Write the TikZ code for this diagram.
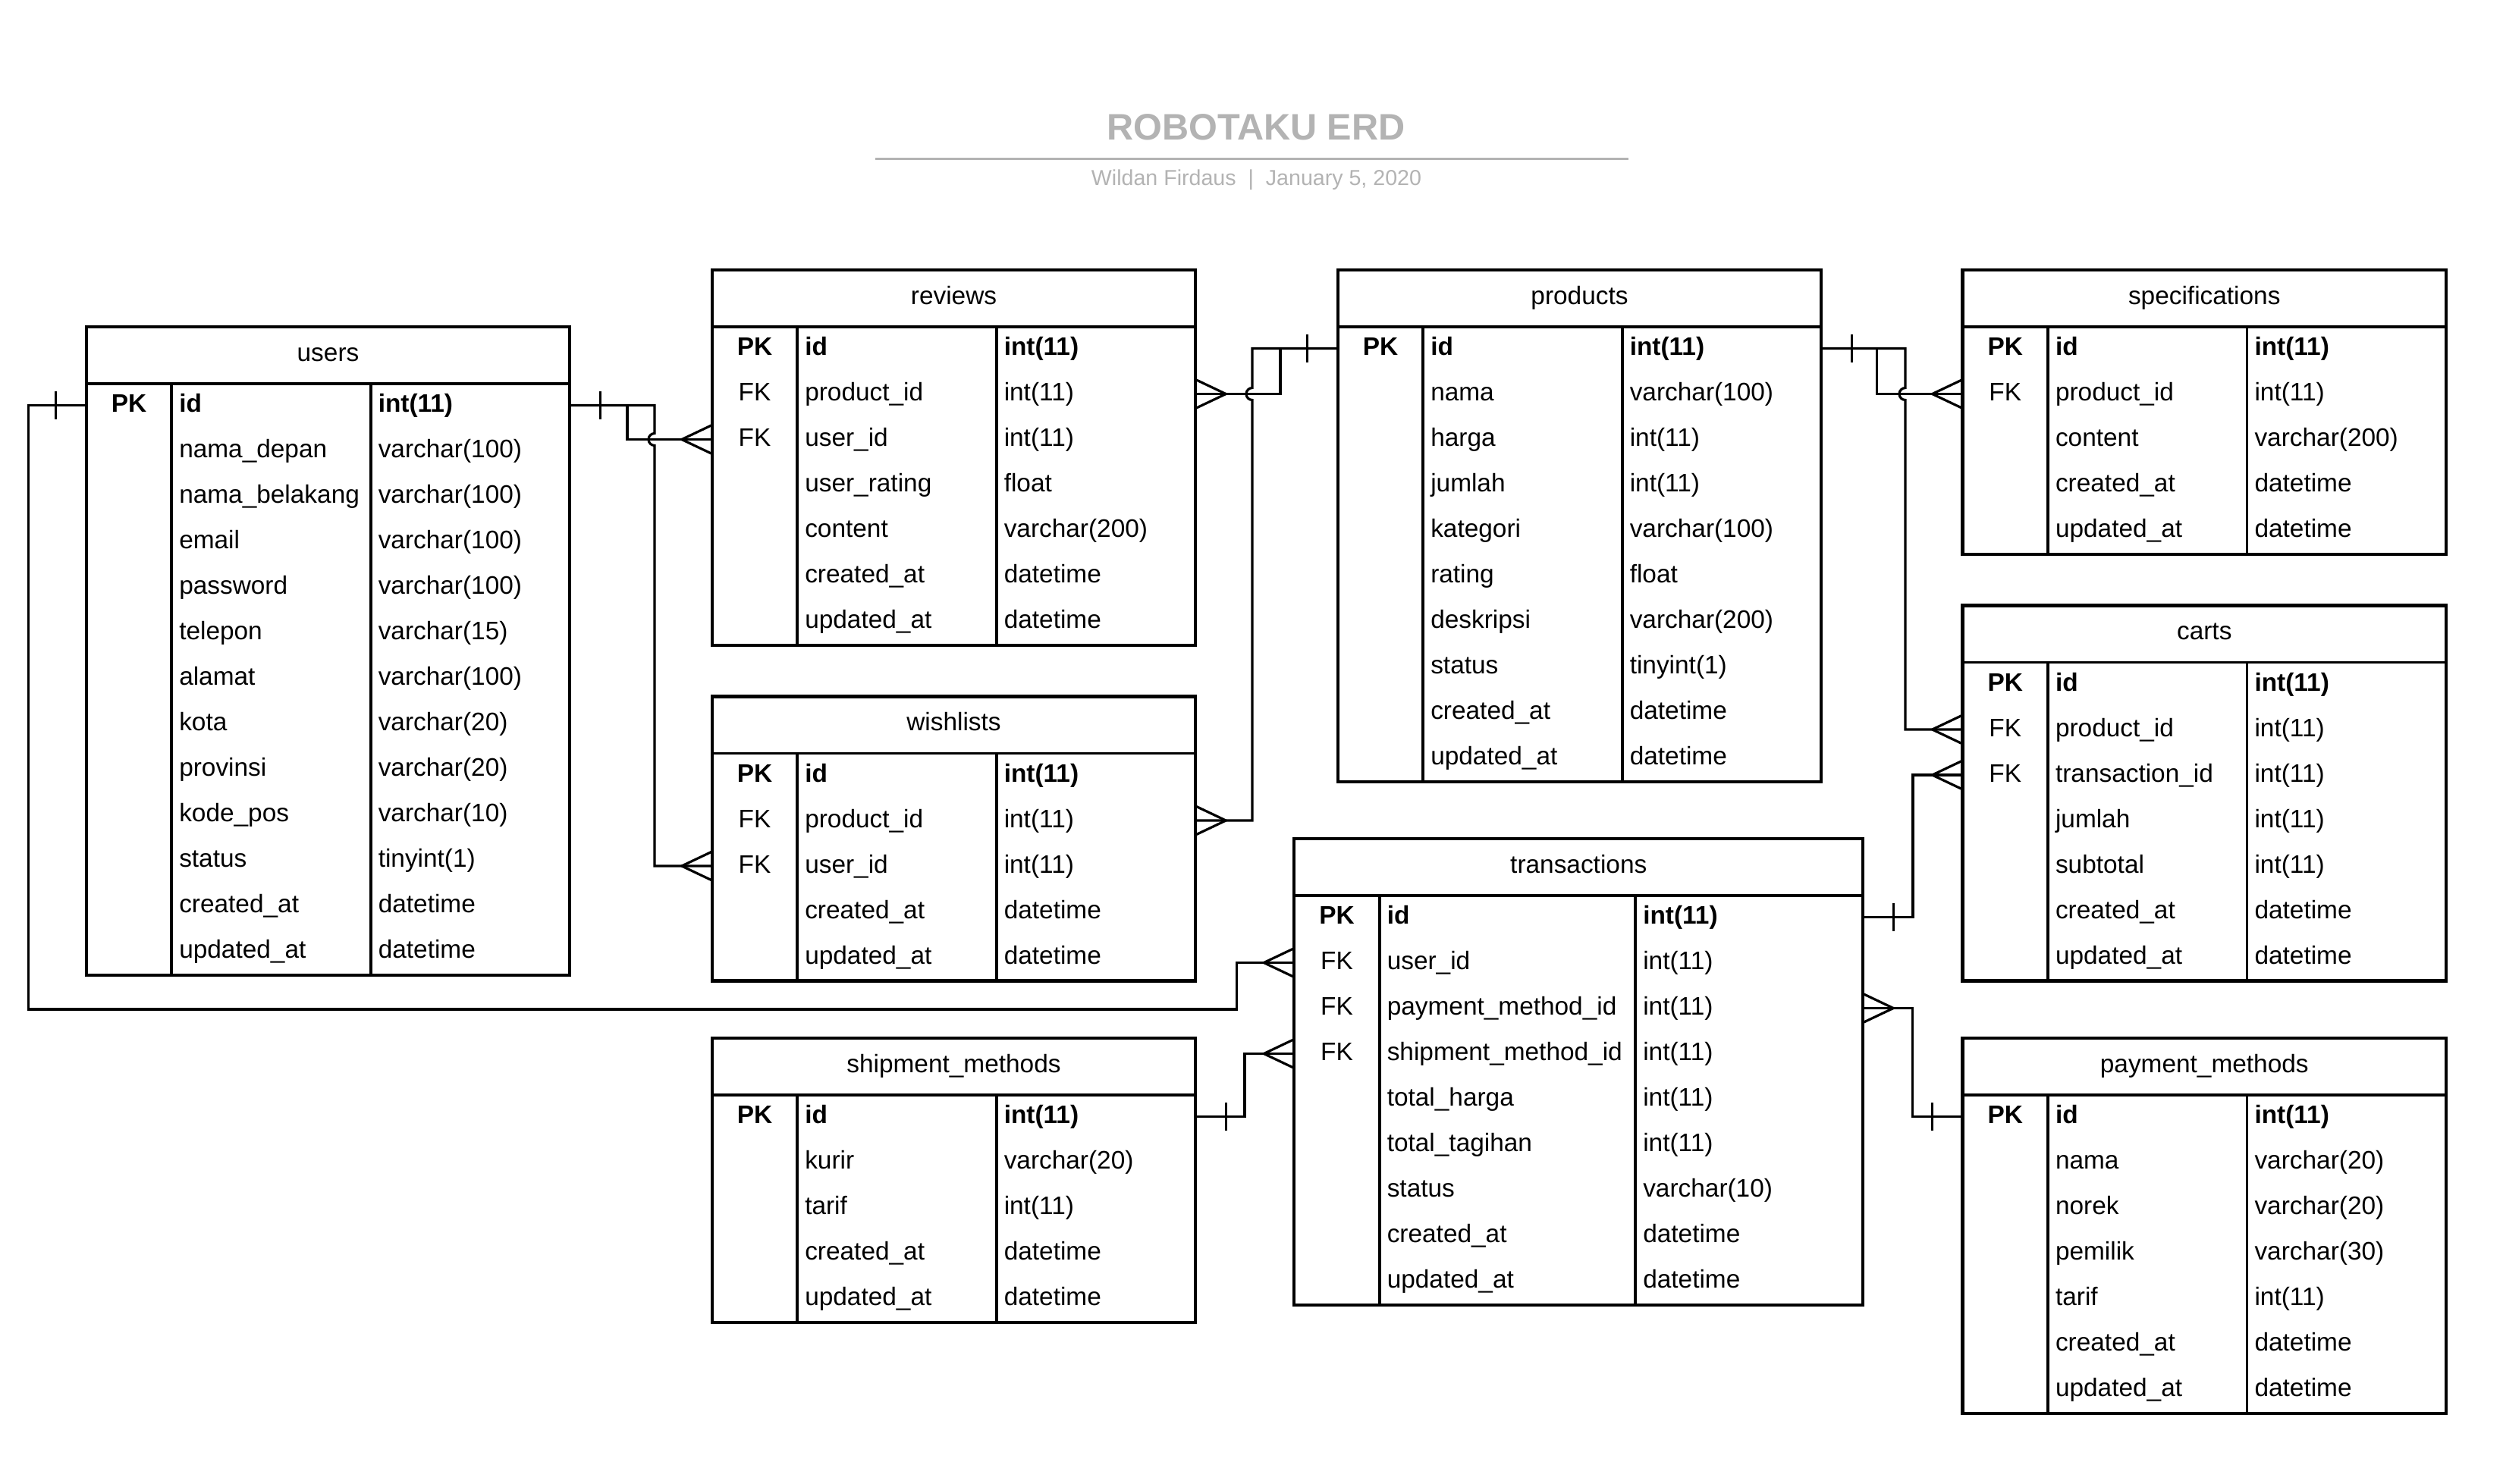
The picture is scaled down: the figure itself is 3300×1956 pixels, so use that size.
\documentclass[tikz,border=0pt]{standalone}
\usepackage{fontspec}
\setmainfont{Liberation Sans}
\usetikzlibrary{calc}
\definecolor{titlegray}{HTML}{B3B3B3}
\tikzset{
  tbl/.style={draw=black, line width=2.1pt, fill=white, rectangle, inner sep=0pt, outer sep=0pt},
  divider/.style={draw=black, line width=1.85pt},
  rowbox/.style={rectangle, inner sep=0pt, outer sep=0pt, minimum height=30pt},
  cell/.style={inner sep=0pt, outer sep=0pt, font=\fontsize{16.7}{20}\selectfont},
  hdr/.style={cell},
  conn/.style={draw=black, line width=1.6pt},
  titletext/.style={inner sep=0pt, text=titlegray, font=\fontsize{24.3}{29}\selectfont\bfseries},
  subtext/.style={inner sep=0pt, text=titlegray, font=\fontsize{14.3}{17}\selectfont},
}
% #1 name, #2 x, #3 y, #4 name col width, #5 type col width, #6 rows, #7 title, #8 rows after PK
\newcommand\erdtable[8]{%
  \pgfmathsetmacro\tbw{112.5+#4+#5}%
  \pgfmathsetmacro\tbh{75+60*#6}%
  \node[tbl, anchor=north west, minimum width=\tbw*0.5pt, minimum height=\tbh*0.5pt] (#1) at (#2,#3) {};
  \draw[divider] ($(#1.north west)+(0,75)$) -- ($(#1.north east)+(0,75)$);
  \draw[divider] ($(#1.north west)+(112.5,75)$) -- ($(#1.south west)+(112.5,0)$);
  \draw[divider] ($(#1.north west)+(112.5+#4,75)$) -- ($(#1.south west)+(112.5+#4,0)$);
  \node[hdr, anchor=base] (#1-title) at ($(#1.north)+(0,45)$) {#7};
  \node[rowbox, anchor=north west, minimum width=\tbw*0.5pt] (#1-0) at ($(#1.north west)+(0,73.5)$) {};
  \node[cell, anchor=base] (#1-0-k) at ($(#1.north west)+(56.25,112.5)$) {\bfseries PK};
  \node[cell, anchor=base west] (#1-0-n) at ($(#1.north west)+(122.5,112.5)$) {\bfseries id};
  \node[cell, anchor=base west] (#1-0-t) at ($(#1.north west)+(122.5+#4,112.5)$) {\bfseries int(11)};
  \foreach \rk/\rn/\rt [count=\ri from 1] in {#8} {
    \node[rowbox, anchor=north west, minimum width=\tbw*0.5pt] (#1-\ri) at ($(#1.north west)+(0,73.5+60*\ri)$) {};
    \node[cell, anchor=base] (#1-\ri-k) at ($(#1.north west)+(56.25,112.5+60*\ri)$) {\rk};
    \node[cell, anchor=base west] (#1-\ri-n) at ($(#1.north west)+(122.5,112.5+60*\ri)$) {\rn};
    \node[cell, anchor=base west] (#1-\ri-t) at ($(#1.north west)+(122.5+#4,112.5+60*\ri)$) {\rt};
  }
}
\newcommand\ertick[2]{\draw[conn] ($(#1)+({(#2)*40},-18.5)$) -- ++(0,37);}
\newcommand\ercrow[2]{%
  \draw[conn] ($(#1)+({(#2)*40},0)$) -- ($(#1)+(0,-19)$);
  \draw[conn] ($(#1)+({(#2)*40},0)$) -- ($(#1)+(0,19)$);}
\begin{document}
\begin{tikzpicture}[x=0.5pt,y=-0.5pt]
\fill[white] (0,0) rectangle (3300,1956);
\useasboundingbox (0,0) rectangle (3300,1956);

% title block
\node[titletext, anchor=base] (title) at (1656,184.5) {ROBOTAKU ERD};
\draw[titlegray, line width=1.35pt] (1154,209.3) -- (2147,209.3);
\node[subtext, anchor=base] (subtitle) at (1656.5,244) {Wildan Firdaus\ \ |\ \ January 5, 2020};

% tables
\erdtable{users}{113.75}{431}{262.5}{262.5}{13}{users}{
  {}/nama\_depan/varchar(100),
  {}/nama\_belakang/varchar(100),
  {}/email/varchar(100),
  {}/password/varchar(100),
  {}/telepon/varchar(15),
  {}/alamat/varchar(100),
  {}/kota/varchar(20),
  {}/provinsi/varchar(20),
  {}/kode\_pos/varchar(10),
  {}/status/tinyint(1),
  {}/created\_at/datetime,
  {}/updated\_at/datetime}

\erdtable{reviews}{938.75}{356}{262.5}{262.5}{7}{reviews}{
  FK/product\_id/int(11),
  FK/user\_id/int(11),
  {}/user\_rating/float,
  {}/content/varchar(200),
  {}/created\_at/datetime,
  {}/updated\_at/datetime}

\erdtable{wishlists}{938.75}{918.5}{262.5}{262.5}{5}{wishlists}{
  FK/product\_id/int(11),
  FK/user\_id/int(11),
  {}/created\_at/datetime,
  {}/updated\_at/datetime}

\erdtable{products}{1763.75}{356}{262.5}{262.5}{10}{products}{
  {}/nama/varchar(100),
  {}/harga/int(11),
  {}/jumlah/int(11),
  {}/kategori/varchar(100),
  {}/rating/float,
  {}/deskripsi/varchar(200),
  {}/status/tinyint(1),
  {}/created\_at/datetime,
  {}/updated\_at/datetime}

\erdtable{specifications}{2587.5}{356}{262.5}{262.5}{5}{specifications}{
  FK/product\_id/int(11),
  {}/content/varchar(200),
  {}/created\_at/datetime,
  {}/updated\_at/datetime}

\erdtable{carts}{2587.5}{798.5}{262.5}{262.5}{7}{carts}{
  FK/product\_id/int(11),
  FK/transaction\_id/int(11),
  {}/jumlah/int(11),
  {}/subtotal/int(11),
  {}/created\_at/datetime,
  {}/updated\_at/datetime}

\erdtable{transactions}{1706.25}{1106}{337.5}{300}{9}{transactions}{
  FK/user\_id/int(11),
  FK/payment\_method\_id/int(11),
  FK/shipment\_method\_id/int(11),
  {}/total\_harga/int(11),
  {}/total\_tagihan/int(11),
  {}/status/varchar(10),
  {}/created\_at/datetime,
  {}/updated\_at/datetime}

\erdtable{shipment}{938.75}{1369}{262.5}{262.5}{5}{shipment\_methods}{
  {}/kurir/varchar(20),
  {}/tarif/int(11),
  {}/created\_at/datetime,
  {}/updated\_at/datetime}

\erdtable{payment}{2587.5}{1369}{262.5}{262.5}{7}{payment\_methods}{
  {}/nama/varchar(20),
  {}/norek/varchar(20),
  {}/pemilik/varchar(30),
  {}/tarif/int(11),
  {}/created\_at/datetime,
  {}/updated\_at/datetime}

% connectors
% users.id -> reviews.user_id
\draw[conn] (users-0.east) -- ++(75.75,0) |- (reviews-2.west);
% users.id -> wishlists.user_id (jumps over previous)
\draw[conn] (users-0.east) -- ++(111.75,0) -- ($(users-0.east |- reviews-2.west)+(111.75,-8)$)
  arc[start angle=90, end angle=270, radius=4pt] |- (wishlists-2.west);
\ertick{users-0.east}{1}
\ercrow{reviews-2.west}{-1}
\ercrow{wishlists-2.west}{-1}

% products.id -> reviews.product_id
\draw[conn] (products-0.west) -- ++(-75.75,0) |- (reviews-1.east);
% products.id -> wishlists.product_id
\draw[conn] (products-0.west) -- ++(-112.75,0) -- ($(products-0.west |- reviews-1.east)+(-112.75,-8)$)
  arc[start angle=90, end angle=270, radius=4pt] |- (wishlists-1.east);
\ertick{products-0.west}{-1}
\ercrow{reviews-1.east}{1}
\ercrow{wishlists-1.east}{1}

% products.id -> specifications.product_id
\draw[conn] (products-0.east) -- ++(73.25,0) |- (specifications-1.west);
% products.id -> carts.product_id
\draw[conn] (products-0.east) -- ++(110.75,0) -- ($(products-0.east |- specifications-1.west)+(110.75,-8)$)
  arc[start angle=90, end angle=270, radius=4pt] |- (carts-1.west);
\ertick{products-0.east}{1}
\ercrow{specifications-1.west}{-1}
\ercrow{carts-1.west}{-1}

% transactions.id -> carts.transaction_id
\draw[conn] (transactions-0.east) -- ++(65.75,0) |- (carts-2.west);
\ertick{transactions-0.east}{1}
\ercrow{carts-2.west}{-1}

% users.id -> transactions.user_id
\draw[conn] (users-0.west) -- ++(-76.25,0) -- ++(0,796.5)
  -| ($(transactions-1.west)+(-75.75,0)$) -- (transactions-1.west);
\ertick{users-0.west}{-1}
\ercrow{transactions-1.west}{-1}

% transactions.payment_method_id -> payment_methods.id
\draw[conn] (transactions-2.east) -- ++(65.25,0) |- (payment-0.west);
\ercrow{transactions-2.east}{1}
\ertick{payment-0.west}{-1}

% shipment_methods.id -> transactions.shipment_method_id
\draw[conn] (shipment-0.east) -- ++(64.75,0) |- (transactions-3.west);
\ertick{shipment-0.east}{1}
\ercrow{transactions-3.west}{-1}
\end{tikzpicture}
\end{document}
